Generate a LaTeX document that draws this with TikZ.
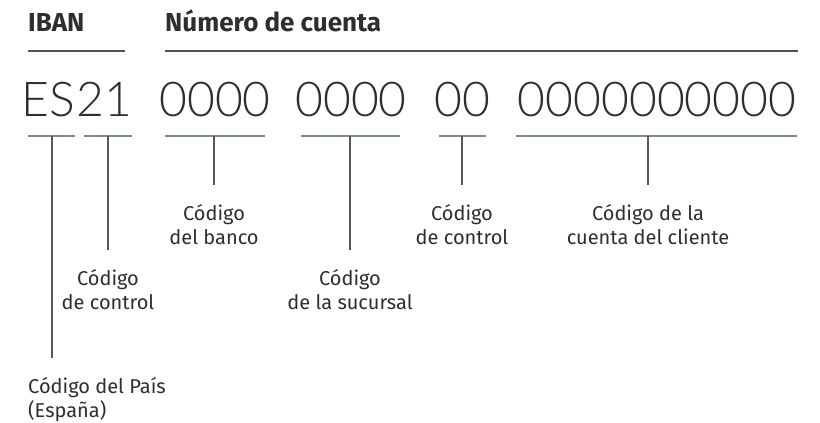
\documentclass[tikz,border=0pt]{standalone}
\usepackage{fontspec}
\setmainfont{Fira Sans}
\newfontfamily\thinfont{Lato Light}
\definecolor{txt}{HTML}{2E2E2E}
\definecolor{rulec}{HTML}{4F5456}
\definecolor{ulc}{HTML}{7E8B90}
\definecolor{linkc}{HTML}{55595B}

\begin{document}
\begin{tikzpicture}[x=1pt,y=-1pt,
  head/.style={font=\fontsize{26}{30}\selectfont\bfseries,text=txt,inner sep=0,anchor=base west},
  digits/.style={font=\thinfont\fontsize{48}{52}\selectfont,text=txt,inner sep=0,anchor=base},
  lbl/.style={font=\fontsize{20}{24.5}\selectfont,text=txt,inner sep=0,align=center,anchor=north},
  rule/.style={draw=rulec,line width=1.3pt},
  uline/.style={draw=ulc,line width=2pt},
  link/.style={draw=linkc,line width=1.1pt,shorten >=19pt}]

\useasboundingbox (0,0) rectangle (820,423);

% headers
\node[head] (iban) at (28,31) {IBAN};
\node[head] (cuenta) at (165,31) {Número de cuenta};
\draw[rule] (28,51) -- (125,51);
\draw[rule] (165,51) -- (798,51);

% number groups
\node[digits] (es) at (48,116) {ES};
\node[digits] (dc1) at (104,116) {21};
\node[digits] (banco) at (215,116) {0000};
\node[digits] (suc) at (351,116) {0000};
\node[digits] (dc2) at (462,116) {00};
\node[digits] (cli) at (657,116) {0000000000};

% underlines
\draw[uline] (28,136) -- (75,136);
\draw[uline] (84,136) -- (132,136);
\draw[uline] (165,136) -- (265,136);
\draw[uline] (301,136) -- (400,136);
\draw[uline] (439,136) -- (486,136);
\draw[uline] (516,136) -- (797,136);

\coordinate (es-t) at (52,136);
\coordinate (dc1-t) at (108,136);
\coordinate (banco-t) at (214,136);
\coordinate (suc-t) at (350,136);
\coordinate (dc2-t) at (462,136);
\coordinate (cli-t) at (648,136);

% labels
\node[lbl,align=left,anchor=north west] (pais) at (28,377) {Código del País\\(España)};
\node[lbl] (dc1-l) at (108,269) {Código\\de control};
\node[lbl] (banco-l) at (214,204) {Código\\del banco};
\node[lbl] (suc-l) at (350,269) {Código\\de la sucursal};
\node[lbl] (dc2-l) at (462,204) {Código\\de control};
\node[lbl] (cli-l) at (648,204) {Código de la\\cuenta del cliente};

\draw[link] (es-t) -- (es-t |- pais.north);
\draw[link] (dc1-t) -- (dc1-l);
\draw[link] (banco-t) -- (banco-l);
\draw[link] (suc-t) -- (suc-l);
\draw[link] (dc2-t) -- (dc2-l);
\draw[link] (cli-t) -- (cli-l);

\end{tikzpicture}
\end{document}
